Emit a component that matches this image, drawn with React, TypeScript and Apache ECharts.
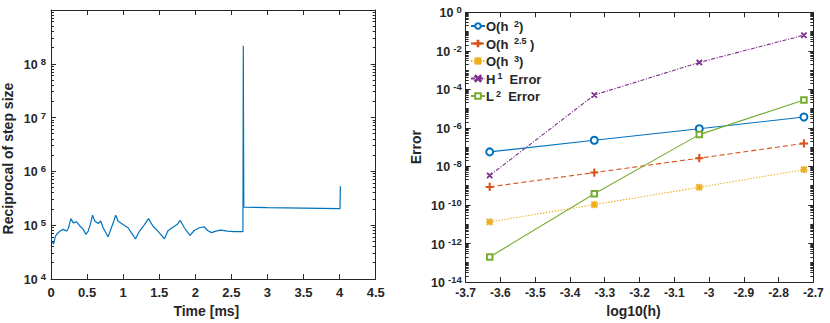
import React, { useEffect, useRef } from "react";
import * as echarts from "echarts";

// ---------- Left panel data: reciprocal of step size vs time ----------
const stepTime = [
  0.005, 0.037, 0.06, 0.079, 0.124, 0.171, 0.216, 0.24, 0.276, 0.309, 0.354, 0.4, 0.447, 0.483,
  0.516, 0.551, 0.575, 0.607, 0.654, 0.689, 0.722, 0.791, 0.837, 0.874, 0.896, 0.929, 0.998,
  1.067, 1.113, 1.172, 1.227, 1.296, 1.351, 1.412, 1.481, 1.572, 1.619, 1.678, 1.747, 1.792,
  1.848, 1.926, 1.985, 2.054, 2.123, 2.17, 2.225, 2.285, 2.354, 2.446, 2.537, 2.66, 2.665,
  2.672, 3.0, 3.5, 4.005, 4.01,
];
const stepRecip = [
  5.1e4, 4.5e4, 6.2e4, 6.8e4, 7.8e4, 8.4e4, 7.8e4, 8.7e4, 1.33e5, 1.11e5, 1.16e5, 9.7e4, 8.4e4,
  6.8e4, 7.8e4, 1.11e5, 1.54e5, 1.2e5, 1.08e5, 1.2e5, 9.0e4, 6.1e4, 9.0e4, 1.23e5, 1.54e5,
  1.2e5, 1.03e5, 9.0e4, 7.3e4, 5.6e4, 7.8e4, 1.03e5, 1.33e5, 9.7e4, 7.8e4, 5.6e4, 7.8e4, 9.0e4,
  1.03e5, 1.23e5, 9.0e4, 6.5e4, 8.0e4, 9.0e4, 9.4e4, 8.0e4, 7.3e4, 7.8e4, 8.1e4, 7.8e4, 7.6e4,
  7.6e4, 2.17e8, 2.17e5, 2.13e5, 2.08e5, 2.04e5, 5.3e5,
];

// ---------- Right panel data: convergence ----------
const log10h = [-3.631, -3.33, -3.028, -2.727];
const orderH2 = [5.7e-8, 2.3e-7, 9.1e-7, 3.7e-6];
const orderH25 = [8.7e-10, 4.8e-9, 2.7e-8, 1.57e-7];
const orderH3 = [1.33e-11, 1.05e-10, 8.3e-10, 6.9e-9];
const errH1 = [3.4e-9, 5.1e-5, 2.5e-3, 6.5e-2];
const errL2 = [2.0e-13, 3.8e-10, 4.5e-7, 2.83e-5];

const leftXTicks = { min: 0, max: 4.5, interval: 0.5 };
const leftYDecades = { min: 4, max: 9 };
const rightXTicks = { min: -3.7, max: -2.7, interval: 0.1 };
const rightYDecades = { min: -14, max: 0, interval: 2 };

const FONT = "'Liberation Sans', Arial, Helvetica, sans-serif";
const AX = "#262626";

const PLUS = "path://M4.35,0H5.65V10H4.35ZM0,4.35H10V5.65H0Z";
const CROSS = "path://M0.9,0L10,9.1L9.1,10L0,0.9ZM9.1,0L10,0.9L0.9,10L0,9.1Z";
const STAR =
  "path://M4.4,0H5.6V10H4.4ZM0,4.4H10V5.6H0ZM1.2,0.4L9.6,8.8L8.8,9.6L0.4,1.2ZM8.8,0.4L9.6,1.2L1.2,9.6L0.4,8.8Z";

function minorPositions(minDec: number, maxDec: number, includeDecades: (k: number) => boolean) {
  const out: number[] = [];
  for (let k = minDec; k < maxDec; k++) {
    if (includeDecades(k) && k !== minDec) out.push(k);
    for (let m = 2; m <= 9; m++) out.push(k + Math.log10(m));
  }
  return out;
}

const supRich = {
  b: { fontSize: 12.5, fontWeight: "bold", color: AX, fontFamily: FONT, lineHeight: 15, verticalAlign: "bottom" },
  s: { fontSize: 9.5, fontWeight: "bold", color: AX, fontFamily: FONT, lineHeight: 15, verticalAlign: "top", padding: [0, 0, 0, 3] },
};

function minorTickSeries(xIdx: number, yIdx: number, xmin: number, positions: number[]) {
  return {
    type: "custom",
    xAxisIndex: xIdx,
    yAxisIndex: yIdx,
    silent: true,
    clip: false,
    z: 5,
    encode: { x: 0, y: 1 },
    data: positions.map((p) => [xmin, p]),
    renderItem: (params: any, api: any) => {
      const cs = params.coordSys;
      const pt = api.coord([api.value(0), api.value(1)]);
      const y = Math.round(pt[1] - 0.5) + 0.5;
      const len = 3;
      const style = { stroke: AX, lineWidth: 1 };
      return {
        type: "group",
        children: [
          { type: "line", shape: { x1: cs.x, y1: y, x2: cs.x + len, y2: y }, style },
          { type: "line", shape: { x1: cs.x + cs.width, y1: y, x2: cs.x + cs.width - len, y2: y }, style },
        ],
      };
    },
  };
}

const legendLabels: Record<string, string> = {
  "O(h^2)": "{t|O(h }{s|2}{t|)}",
  "O(h^2.5)": "{t|O(h }{s|2.5}{t| )}",
  "O(h^3)": "{t|O(h }{s|3}{t|)}",
  "H1 Error": "{t|H}{s|1}{t|  Error}",
  "L2 Error": "{t|L}{s|2}{t|  Error}",
};

export default function App() {
  const ref = useRef<HTMLDivElement>(null);

  useEffect(() => {
    if (!ref.current) return;
    const chart = echarts.init(ref.current, undefined, { renderer: "svg" });

    const baseAxis = (extra: any) => ({
      type: "value",
      axisLine: { show: true, onZero: false, lineStyle: { color: AX, width: 1 } },
      axisTick: { show: true, inside: true, length: 5, lineStyle: { color: AX, width: 1 } },
      splitLine: { show: false },
      ...extra,
    });

    const xLabel = (size: number, margin: number) => ({
      show: true,
      color: AX,
      fontFamily: FONT,
      fontWeight: "bold",
      fontSize: size,
      margin,
      formatter: (v: number) => String(Math.round(v * 10) / 10),
    });

    const mkLine = (name: string, data: number[], color: string, lineType: any, symbol: string, size: number) => ({
      name,
      type: "line",
      xAxisIndex: 2,
      yAxisIndex: 2,
      data: log10h.map((x, i) => [x, Math.log10(data[i])]),
      symbol,
      symbolSize: size,
      showSymbol: true,
      color,
      itemStyle: { color, borderColor: color, borderWidth: 1.1 },
      lineStyle: { color, width: 1.1, type: lineType },
      z: 3,
    });

    const nameStyle = (padding: number[]) => ({
      color: AX,
      fontFamily: FONT,
      fontWeight: "bold",
      fontSize: 14,
      padding,
    });

    const option: any = {
      animation: false,
      backgroundColor: "#ffffff",
      textStyle: { fontFamily: FONT },
      grid: [
        { left: 49.3, right: 454.3, top: 10, bottom: 41.3, containLabel: false },
        { left: 465.7, right: 16.7, top: 12.3, bottom: 35.7, containLabel: false },
      ],
      xAxis: [
        baseAxis({
          gridIndex: 0,
          position: "bottom",
          ...leftXTicks,
          axisLabel: xLabel(13, 7),
          name: "Time [ms]",
          nameLocation: "middle",
          nameGap: 21,
          nameTextStyle: nameStyle([0, 14, 0, 0]),
        }),
        baseAxis({ gridIndex: 0, position: "top", ...leftXTicks, axisLabel: { show: false } }),
        baseAxis({
          gridIndex: 1,
          position: "bottom",
          ...rightXTicks,
          axisLabel: xLabel(12, 5),
          name: "log10(h)",
          nameLocation: "middle",
          nameGap: 18,
          nameTextStyle: nameStyle([0, 12, 0, 0]),
        }),
        baseAxis({ gridIndex: 1, position: "top", ...rightXTicks, axisLabel: { show: false } }),
      ],
      yAxis: [
        baseAxis({
          gridIndex: 0,
          position: "left",
          min: leftYDecades.min,
          max: leftYDecades.max,
          interval: 1,
          axisLabel: {
            show: true,
            margin: 5,
            formatter: (v: number) => (v >= leftYDecades.max ? "" : `{b|10}{s|${v}}`),
            rich: supRich,
          },
          name: "Reciprocal of step size",
          nameLocation: "middle",
          nameGap: 36,
          nameTextStyle: nameStyle([0, 28, 0, 0]),
        }),
        baseAxis({
          gridIndex: 0,
          position: "right",
          min: leftYDecades.min,
          max: leftYDecades.max,
          interval: 1,
          axisLabel: { show: false },
        }),
        baseAxis({
          gridIndex: 1,
          position: "left",
          min: rightYDecades.min,
          max: rightYDecades.max,
          interval: rightYDecades.interval,
          axisLabel: {
            show: true,
            margin: 4,
            formatter: (v: number) => `{b|10}{s|${v}}`,
            rich: supRich,
          },
          name: "Error",
          nameLocation: "middle",
          nameGap: 43,
          nameTextStyle: nameStyle([0, 0, 0, 0]),
        }),
        baseAxis({
          gridIndex: 1,
          position: "right",
          min: rightYDecades.min,
          max: rightYDecades.max,
          interval: rightYDecades.interval,
          axisLabel: { show: false },
        }),
      ],
      legend: {
        orient: "vertical",
        left: 470,
        top: 19,
        itemGap: 3.5,
        itemWidth: 14,
        itemHeight: 7,
        padding: 0,
        selectedMode: false,
        data: Object.keys(legendLabels),
        formatter: (name: string) => legendLabels[name],
        textStyle: {
          color: AX,
          fontFamily: FONT,
          fontWeight: "bold",
          fontSize: 13,
          padding: [0, 0, 0, -4],
          rich: {
            t: { fontSize: 13, fontWeight: "bold", color: AX, fontFamily: FONT, lineHeight: 14, verticalAlign: "bottom" },
            s: { fontSize: 9, fontWeight: "bold", color: AX, fontFamily: FONT, lineHeight: 14, verticalAlign: "top", padding: [0, 0, 0, 2] },
          },
        },
      },
      series: [
        {
          name: "step",
          type: "line",
          xAxisIndex: 0,
          yAxisIndex: 0,
          data: stepTime.map((t, i) => [t, Math.log10(stepRecip[i])]),
          showSymbol: false,
          symbol: "none",
          color: "#0072BD",
          lineStyle: { color: "#0072BD", width: 1.2 },
          z: 3,
        },
        mkLine("O(h^2)", orderH2, "#0072BD", "solid", "emptyCircle", 7),
        mkLine("O(h^2.5)", orderH25, "#D95319", [5, 3], PLUS, 7),
        mkLine("O(h^3)", orderH3, "#EDB120", [1.5, 1.5], STAR, 6),
        mkLine("H1 Error", errH1, "#7E2F8E", [4, 1.5, 1.2, 1.5], CROSS, 5),
        mkLine("L2 Error", errL2, "#77AC30", "solid", "emptyRect", 5.5),
        minorTickSeries(0, 0, leftXTicks.min, minorPositions(leftYDecades.min, leftYDecades.max, () => false)),
        minorTickSeries(2, 2, rightXTicks.min, minorPositions(rightYDecades.min, rightYDecades.max, (k) => k % 2 !== 0)),
      ],
    };

    chart.setOption(option);
    return () => chart.dispose();
  }, []);

  return (
    <div
      ref={ref}
      style={{ position: "fixed", left: 0, top: 0, width: 830, height: 323, background: "#fff" }}
    />
  );
}
